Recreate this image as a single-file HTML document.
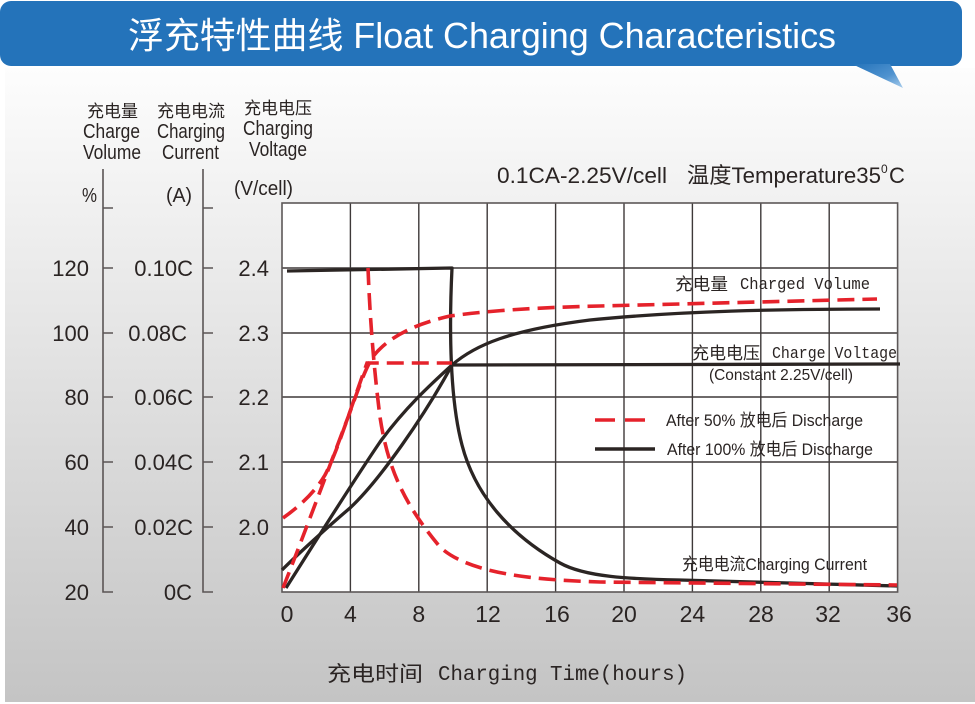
<!DOCTYPE html>
<html>
<head>
<meta charset="utf-8">
<style>
html,body{margin:0;padding:0;background:#fff;}
svg{display:block;}
text{font-family:"Liberation Sans","Noto Sans CJK SC",sans-serif;}
.cjk{font-family:"Noto Sans CJK SC","WenQuanYi Zen Hei",sans-serif;}
.mono{font-family:"Liberation Mono","Noto Sans CJK SC",monospace;}
</style>
</head>
<body>
<svg width="975" height="704" viewBox="0 0 975 704" xmlns="http://www.w3.org/2000/svg">
  <defs>
    <linearGradient id="panel" x1="0" y1="0" x2="0" y2="1">
      <stop offset="0" stop-color="#fdfdfd"/>
      <stop offset="0.5" stop-color="#e0e0e0"/>
      <stop offset="1" stop-color="#c4c4c4"/>
    </linearGradient>
    <linearGradient id="tail" x1="0" y1="0" x2="1" y2="1">
      <stop offset="0" stop-color="#2473ba"/>
      <stop offset="0.6" stop-color="#4f92cf"/>
      <stop offset="1" stop-color="#a9cdec"/>
    </linearGradient>
  </defs>

  <!-- background panel -->
  <rect x="0" y="0" width="975" height="704" fill="#ffffff"/>
  <rect x="5" y="68" width="970" height="634" fill="url(#panel)"/>

  <!-- header bubble -->
  <rect x="0" y="1" width="962" height="65" rx="11" ry="11" fill="#2473ba"/>
  <polygon points="852,64 903,88 890,64" fill="url(#tail)"/>
  <text x="128" y="48" font-size="36" fill="#ffffff" textLength="708" lengthAdjust="spacingAndGlyphs">浮充特性曲线 Float Charging Characteristics</text>

  <!-- column headers -->
  <g fill="#2a2423">
    <text class="cjk" x="87" y="117" font-size="17" textLength="51" lengthAdjust="spacingAndGlyphs">充电量</text>
    <text x="83" y="138" font-size="20" textLength="57" lengthAdjust="spacingAndGlyphs">Charge</text>
    <text x="83" y="159" font-size="20" textLength="58" lengthAdjust="spacingAndGlyphs">Volume</text>

    <text class="cjk" x="157" y="117" font-size="17" textLength="68" lengthAdjust="spacingAndGlyphs">充电电流</text>
    <text x="157" y="138" font-size="20" textLength="68" lengthAdjust="spacingAndGlyphs">Charging</text>
    <text x="162" y="159" font-size="20" textLength="57" lengthAdjust="spacingAndGlyphs">Current</text>

    <text class="cjk" x="244" y="114" font-size="17" textLength="68" lengthAdjust="spacingAndGlyphs">充电电压</text>
    <text x="243" y="135" font-size="20" textLength="70" lengthAdjust="spacingAndGlyphs">Charging</text>
    <text x="249" y="156" font-size="20" textLength="58" lengthAdjust="spacingAndGlyphs">Voltage</text>

    <text x="234" y="195" font-size="20" textLength="59" lengthAdjust="spacingAndGlyphs">(V/cell)</text>
    <text x="82" y="202" font-size="20" textLength="15" lengthAdjust="spacingAndGlyphs">%</text>
    <text x="166" y="202" font-size="20" textLength="26" lengthAdjust="spacingAndGlyphs">(A)</text>
  </g>

  <!-- left axes -->
  <g stroke="#5b5555" stroke-width="1.6" fill="none">
    <path d="M103,169 L103,592 L113,592"/>
    <path d="M103,208 L113,208 M103,268 L113,268 M103,333 L113,333 M103,397 L113,397 M103,462 L113,462 M103,527 L113,527"/>
    <path d="M203,169 L203,592 L213,592"/>
    <path d="M203,208 L213,208 M203,268 L213,268 M203,333 L213,333 M203,397 L213,397 M203,462 L213,462 M203,527 L213,527"/>
  </g>

  <!-- axis tick labels -->
  <g fill="#2a2423" font-size="22" text-anchor="end">
    <text x="89" y="276">120</text>
    <text x="89" y="341">100</text>
    <text x="89" y="405">80</text>
    <text x="89" y="470">60</text>
    <text x="89" y="535">40</text>
    <text x="89" y="600">20</text>

    <text x="193" y="276">0.10C</text>
    <text x="187" y="341">0.08C</text>
    <text x="193" y="405">0.06C</text>
    <text x="193" y="470">0.04C</text>
    <text x="193" y="535">0.02C</text>
    <text x="192" y="600">0C</text>

    <text x="269" y="276">2.4</text>
    <text x="269" y="341">2.3</text>
    <text x="269" y="405">2.2</text>
    <text x="269" y="470">2.1</text>
    <text x="269" y="535">2.0</text>
  </g>

  <!-- conditions text -->
  <g fill="#2a2423">
    <text x="497" y="183" font-size="22" textLength="170" lengthAdjust="spacingAndGlyphs">0.1CA-2.25V/cell</text>
    <text x="687" y="183" font-size="22" textLength="194" lengthAdjust="spacingAndGlyphs">温度Temperature35</text>
    <text x="881" y="173" font-size="12">0</text>
    <text x="889" y="183" font-size="22">C</text>
  </g>

  <!-- plot area -->
  <rect x="282" y="203" width="615.6" height="389" fill="#ffffff"/>
  <g stroke="#3e3939" stroke-width="1.4" fill="none">
    <path d="M350.4,203 V592 M418.8,203 V592 M487.2,203 V592 M555.6,203 V592 M624,203 V592 M692.4,203 V592 M760.8,203 V592 M829.2,203 V592"/>
    <path d="M282,268 H897.6 M282,333 H897.6 M282,397 H897.6 M282,462 H897.6 M282,527 H897.6"/>
  </g>
  <rect x="282" y="203" width="615.6" height="389" fill="none" stroke="#5d5858" stroke-width="1.6"/>

  <!-- labels inside plot -->
  <g fill="#2a2423">
    <text class="cjk" x="675" y="290" font-size="17" textLength="53" lengthAdjust="spacingAndGlyphs">充电量</text>
    <text class="mono" x="740" y="289" font-size="17" textLength="130" lengthAdjust="spacingAndGlyphs">Charged Volume</text>
    <text class="cjk" x="692" y="359" font-size="17" textLength="68" lengthAdjust="spacingAndGlyphs">充电电压</text>
    <text class="mono" x="772" y="358" font-size="17" textLength="125" lengthAdjust="spacingAndGlyphs">Charge Voltage</text>
    <text x="709" y="380" font-size="16" textLength="144" lengthAdjust="spacingAndGlyphs">(Constant 2.25V/cell)</text>

    <text x="666" y="426" font-size="17" textLength="197" lengthAdjust="spacingAndGlyphs">After 50% 放电后 Discharge</text>
    <text x="667" y="455" font-size="17" textLength="206" lengthAdjust="spacingAndGlyphs">After 100% 放电后 Discharge</text>

    <text x="682" y="570" font-size="17" textLength="185" lengthAdjust="spacingAndGlyphs">充电电流Charging Current</text>
  </g>

  <!-- legend lines -->
  <path d="M595,420 L645,420" stroke="#e5222b" stroke-width="3.6" stroke-dasharray="20 10" fill="none"/>
  <path d="M595,449 L655,449" stroke="#2b2523" stroke-width="3.6" fill="none"/>

  <!-- black (100% discharge) series -->
  <g stroke="#2b2523" stroke-width="3.3" fill="none" stroke-linejoin="round">
    <!-- 2.4 line + current decay -->
    <path d="M287,271 L452,268 C449,330 450,400 462,445 C475,495 510,535 560,563 C585,577 630,579 680,580 L897,586"/>
    <!-- voltage -->
    <path d="M282,570 C300,552 330,525 350,508 C380,480 425,415 452,365 L900,364"/>
    <!-- charged volume -->
    <path d="M286,588 C305,558 350,486 380,442 C405,408 430,385 452,365 C475,345 510,330 590,320 C680,311 780,309 880,309"/>
  </g>

  <!-- red (50% discharge) series -->
  <g stroke="#e5222b" stroke-width="3.6" fill="none" stroke-dasharray="17 8">
    <!-- current -->
    <path d="M368,268 C370,320 374,370 380,417 C388,470 405,505 440,547 C470,575 540,580 600,582 L897,585"/>
    <!-- voltage -->
    <path d="M283,518 C300,506 315,492 325,475 C338,450 350,410 367,363 L452,363"/>
    <!-- charged volume -->
    <path d="M283,588 C300,545 330,465 350,412 C358,390 364,372 372,358 C385,340 410,325 450,316 C500,309 560,307 600,306 L877,299"/>
  </g>

  <!-- x tick labels -->
  <g fill="#2a2423" font-size="23" text-anchor="middle">
    <text x="287" y="622">0</text>
    <text x="350.4" y="622">4</text>
    <text x="418.8" y="622">8</text>
    <text x="488" y="622">12</text>
    <text x="557" y="622">16</text>
    <text x="624" y="622">20</text>
    <text x="692.4" y="622">24</text>
    <text x="761" y="622">28</text>
    <text x="828" y="622">32</text>
    <text x="899" y="622">36</text>
  </g>

  <!-- x axis title -->
  <g fill="#2a2423">
    <text class="cjk" x="327" y="681" font-size="21" textLength="96" lengthAdjust="spacingAndGlyphs">充电时间</text>
    <text class="mono" x="438" y="680" font-size="21" textLength="249" lengthAdjust="spacingAndGlyphs">Charging Time(hours)</text>
  </g>
</svg>
</body>
</html>
